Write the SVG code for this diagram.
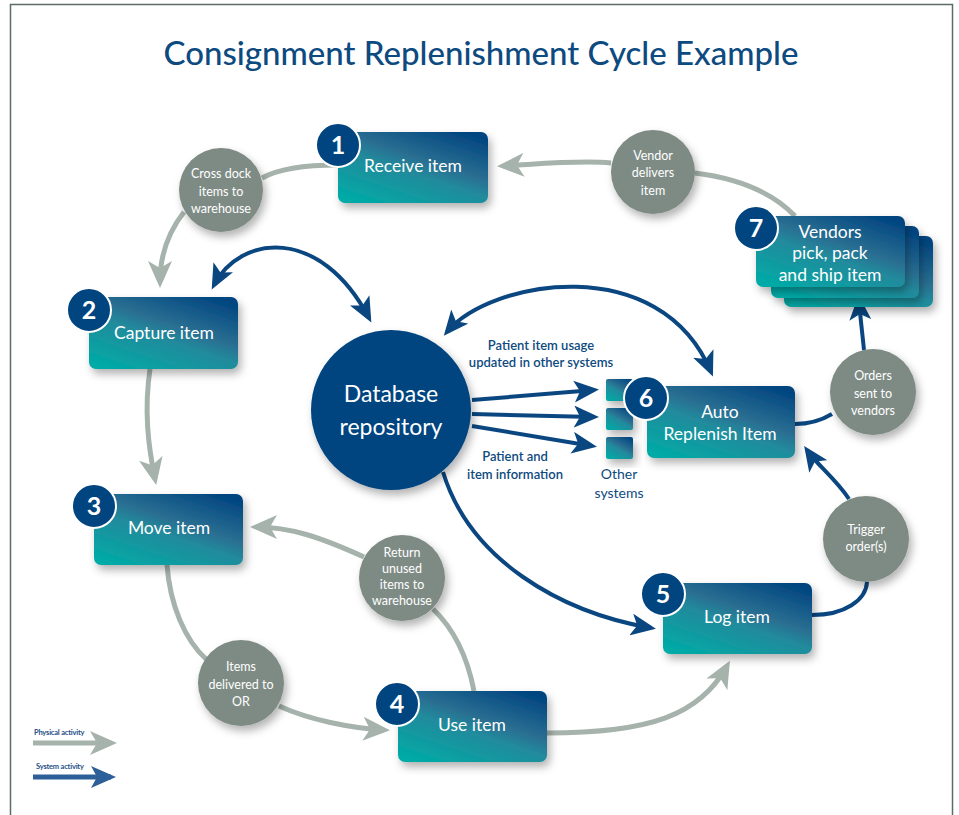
<svg xmlns="http://www.w3.org/2000/svg" width="959" height="815" viewBox="0 0 959 815">
<style>
.title{font-family:Lato,"Open Sans","DejaVu Sans",sans-serif;font-size:33px;font-weight:500;fill:#0d4a80;text-anchor:middle}
.nt{font-family:Lato,"Open Sans","DejaVu Sans",sans-serif;font-size:17.5px;fill:#fff;text-anchor:middle}
.num{font-family:Lato,"Open Sans","DejaVu Sans",sans-serif;font-size:25px;font-weight:bold;fill:#fff;text-anchor:middle}
.ct{font-family:Lato,"Open Sans","DejaVu Sans",sans-serif;font-size:12.5px;fill:#fff;text-anchor:middle}
.bl{font-family:Lato,"Open Sans","DejaVu Sans",sans-serif;font-size:13px;font-weight:600;fill:#0d4a80;text-anchor:middle}
.os{font-family:Lato,"Open Sans","DejaVu Sans",sans-serif;font-size:14px;fill:#0d4a80;text-anchor:middle}
.db{font-family:Lato,"Open Sans","DejaVu Sans",sans-serif;font-size:23px;fill:#fff;text-anchor:middle}
.lg{font-family:Lato,"Open Sans","DejaVu Sans",sans-serif;font-size:7.5px;font-weight:bold;fill:#1f4f86;letter-spacing:-0.2px}
.box{fill:url(#g);filter:url(#sh)}
.nc{fill:#00457f;stroke:#fff;stroke-width:2}
.gc{fill:#7e8b84;filter:url(#sh)}
.gl{fill:none;stroke:#a6b3ac;stroke-width:5}
.bln{fill:none;stroke:#0a4680;stroke-width:4}
</style>
<defs>
<linearGradient id="g" x1="0.15" y1="1" x2="0.85" y2="0">
<stop offset="0" stop-color="#00aaa6"/>
<stop offset="0.45" stop-color="#228a9c"/>
<stop offset="0.6" stop-color="#2a6f92"/>
<stop offset="1" stop-color="#004580"/>
</linearGradient>
<filter id="sh" x="-20%" y="-20%" width="150%" height="160%">
<feDropShadow dx="3" dy="5" stdDeviation="4" flood-color="#000" flood-opacity="0.3"/>
</filter>
<marker id="ag" markerUnits="userSpaceOnUse" markerWidth="28" markerHeight="24" viewBox="0 0 28 24" refX="21" refY="12" orient="auto-start-reverse">
<path d="M0,0 L27,12 L0,24 L7,12 z" fill="#a6b3ac"/>
</marker>
<marker id="ab" markerUnits="userSpaceOnUse" markerWidth="26" markerHeight="22" viewBox="0 0 26 22" refX="20" refY="11" orient="auto-start-reverse">
<path d="M0,0 L25,11 L0,22 L6,11 z" fill="#0a4680"/>
</marker>
<marker id="al" markerUnits="userSpaceOnUse" markerWidth="26" markerHeight="22" viewBox="0 0 26 22" refX="20" refY="11" orient="auto">
<path d="M0,0 L25,11 L0,22 L6,11 z" fill="#2d5f99"/>
</marker>
</defs>
<rect x="0" y="0" width="959" height="815" fill="#fff"/>
<rect x="10.5" y="4.5" width="942" height="830" fill="none" stroke="#5c6b66" stroke-width="1.5"/>
<text class="title" x="481" y="65">Consignment Replenishment Cycle Example</text>

<g id="connectors">
<path class="gl" d="M338,165 C310,165 280,168 262,178"/>
<path class="gl" d="M184,212 C166,235 160,258 160,282" marker-end="url(#ag)"/>
<path class="gl" d="M150,369 C144,410 148,445 155,479" marker-end="url(#ag)"/>
<path class="gl" d="M167,565 C170,605 185,640 206,659"/>
<path class="gl" d="M279,706 C310,720 350,728 384,730" marker-end="url(#ag)"/>
<path class="gl" d="M474,691 C468,660 455,630 433,609"/>
<path class="gl" d="M364,557 C320,537 290,527 256,527" marker-end="url(#ag)"/>
<path class="gl" d="M547,733 C650,733 700,715 727,666" marker-end="url(#ag)"/>
<path class="gl" d="M795,216 C770,190 735,178 695,173"/>
<path class="gl" d="M611,163 C580,160 540,164 503,166" marker-end="url(#ag)"/>

<path class="bln" d="M214,285 C240,235 320,225 369,318" marker-start="url(#ab)" marker-end="url(#ab)"/>
<path class="bln" d="M447,332 C490,280 660,250 711,372" marker-start="url(#ab)" marker-end="url(#ab)"/>
<path class="bln" d="M472,400 L594,390" marker-end="url(#ab)"/>
<path class="bln" d="M472,414 L594,417" marker-end="url(#ab)"/>
<path class="bln" d="M472,426 L592,446" marker-end="url(#ab)"/>
<path class="bln" d="M443,472 C470,560 560,612 651,628" marker-end="url(#ab)"/>
<path class="bln" d="M812,615 C845,615 866,600 867,582"/>
<path class="bln" d="M849,499 C835,478 818,466 807,450" marker-end="url(#ab)"/>
<path class="bln" d="M795,424 C810,424 822,420 832,414"/>
<path class="bln" d="M864,350 C862,330 860,315 859,300" marker-end="url(#ab)"/>
</g>

<g id="db">
<circle cx="391" cy="410" r="80" fill="#00457f" filter="url(#sh)"/>
<text class="db" x="391" y="402">Database</text>
<text class="db" x="391" y="435">repository</text>
</g>

<g id="labels">
<text class="bl" x="541" y="350">Patient item usage</text>
<text class="bl" x="541" y="367">updated in other systems</text>
<text class="bl" x="515" y="461">Patient and</text>
<text class="bl" x="515" y="479">item information</text>
</g>

<g id="other-systems">
<rect class="box" x="606" y="379" width="27" height="22" rx="2"/>
<rect class="box" x="606" y="408" width="27" height="22" rx="2"/>
<rect class="box" x="606" y="437" width="27" height="22" rx="2"/>
<text class="os" x="619" y="479">Other</text>
<text class="os" x="619" y="498">systems</text>
</g>

<g id="n1">
<rect class="box" x="338" y="132" width="150" height="71" rx="7"/>
<text class="nt" x="413" y="172">Receive item</text>
<circle class="nc" cx="338" cy="145" r="22"/>
<text class="num" x="338" y="154">1</text>
</g>
<g id="n2">
<rect class="box" x="89" y="297" width="149" height="72" rx="7"/>
<text class="nt" x="164" y="339">Capture item</text>
<circle class="nc" cx="89" cy="310" r="22"/>
<text class="num" x="89" y="319">2</text>
</g>
<g id="n3">
<rect class="box" x="94" y="494" width="149" height="71" rx="7"/>
<text class="nt" x="169" y="534">Move item</text>
<circle class="nc" cx="94" cy="506" r="22"/>
<text class="num" x="94" y="515">3</text>
</g>
<g id="n4">
<rect class="box" x="398" y="691" width="149" height="71" rx="7"/>
<text class="nt" x="472" y="731">Use item</text>
<circle class="nc" cx="397" cy="704" r="22"/>
<text class="num" x="397" y="713">4</text>
</g>
<g id="n5">
<rect class="box" x="663" y="583" width="149" height="71" rx="7"/>
<text class="nt" x="737" y="623">Log item</text>
<circle class="nc" cx="663" cy="594" r="22"/>
<text class="num" x="663" y="603">5</text>
</g>
<g id="n6">
<rect class="box" x="647" y="386" width="148" height="72" rx="7"/>
<text class="nt" x="720" y="418">Auto</text>
<text class="nt" x="720" y="440">Replenish Item</text>
<circle class="nc" cx="646" cy="398" r="22"/>
<text class="num" x="646" y="407">6</text>
</g>
<g id="n7">
<rect class="box" x="784" y="236" width="149" height="71" rx="7"/>
<rect class="box" x="771" y="226" width="148" height="72" rx="7"/>
<rect class="box" x="756" y="216" width="149" height="71" rx="7"/>
<text class="nt" x="830" y="238">Vendors</text>
<text class="nt" x="830" y="259">pick, pack</text>
<text class="nt" x="830" y="281">and ship item</text>
<circle class="nc" cx="756" cy="228" r="22"/>
<text class="num" x="756" y="237">7</text>
</g>

<g id="c-crossdock">
<circle class="gc" cx="221" cy="190" r="42"/>
<text class="ct" x="221" y="178">Cross dock</text>
<text class="ct" x="221" y="196">items to</text>
<text class="ct" x="221" y="213">warehouse</text>
</g>
<g id="c-vendor">
<circle class="gc" cx="653" cy="172" r="42"/>
<text class="ct" x="653" y="160">Vendor</text>
<text class="ct" x="653" y="177">delivers</text>
<text class="ct" x="653" y="195">item</text>
</g>
<g id="c-orders">
<circle class="gc" cx="873" cy="392" r="43"/>
<text class="ct" x="873" y="380">Orders</text>
<text class="ct" x="873" y="398">sent to</text>
<text class="ct" x="873" y="415">vendors</text>
</g>
<g id="c-trigger">
<circle class="gc" cx="866" cy="539" r="43"/>
<text class="ct" x="866" y="534">Trigger</text>
<text class="ct" x="866" y="551">order(s)</text>
</g>
<g id="c-return">
<circle class="gc" cx="402" cy="578" r="43"/>
<text class="ct" x="402" y="557">Return</text>
<text class="ct" x="402" y="573">unused</text>
<text class="ct" x="402" y="589">items to</text>
<text class="ct" x="402" y="605">warehouse</text>
</g>
<g id="c-delivered">
<circle class="gc" cx="241" cy="683" r="43"/>
<text class="ct" x="241" y="671">Items</text>
<text class="ct" x="241" y="689">delivered to</text>
<text class="ct" x="241" y="706">OR</text>
</g>

<g id="legend">
<text class="lg" x="34" y="735">Physical activity</text>
<path class="gl" d="M33,743 L111,743" marker-end="url(#ag)"/>
<text class="lg" x="36" y="769">System activity</text>
<path d="M33,777 L111,777" fill="none" stroke="#2d5f99" stroke-width="5" marker-end="url(#al)"/>
</g>
</svg>
